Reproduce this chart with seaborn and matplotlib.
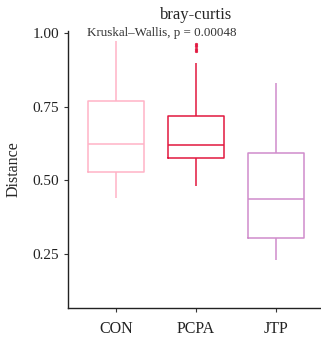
import pandas as pd
import matplotlib
matplotlib.use("Agg")
import matplotlib.pyplot as plt
import seaborn as sns

groups = ["CON", "PCPA", "JTP"]
con = [0.44, 0.53, 0.625, 0.77, 0.975]
pcpa = [0.48, 0.51, 0.53, 0.55, 0.565, 0.575, 0.585, 0.595, 0.605, 0.612,
        0.619, 0.64, 0.66, 0.68, 0.70, 0.72, 0.90, 0.94, 0.948, 0.956, 0.964]
jtp = [0.228, 0.305, 0.435, 0.592, 0.83]
colors = ["#FFB3C6", "#E2183F", "#D08CCB"]
pval = "0.00048"

df = pd.DataFrame({
    "group": ["CON"] * len(con) + ["PCPA"] * len(pcpa) + ["JTP"] * len(jtp),
    "Distance": con + pcpa + jtp,
})

sns.set_style("white")
plt.rcParams["font.family"] = ["Liberation Serif", "DejaVu Serif"]

fig = plt.figure(figsize=(3.21, 3.43), dpi=100)
ax = fig.add_axes([0.212, 0.102, 0.797, 0.807])

sns.boxplot(data=df, x="group", y="Distance", hue="group", order=groups,
            hue_order=groups, palette=colors, fill=False, width=0.7,
            linewidth=1.1, whis=1.5, showcaps=False, legend=False, ax=ax,
            flierprops=dict(marker="o", markersize=1.8, markeredgewidth=0.5))

# color outliers like their box
for line, c in zip([l for l in ax.lines if l.get_marker() == "o"], colors):
    line.set_markerfacecolor(c)
    line.set_markeredgecolor(c)

ax.set_xlim(-0.6, 2.6)
ax.set_ylim(0.066, 1.007)
ax.set_yticks([0.25, 0.5, 0.75, 1.0])
ax.set_yticklabels(["0.25", "0.50", "0.75", "1.00"])
ax.set_xlabel("")
ax.set_ylabel("Distance", fontsize=11.5, labelpad=8)
ax.set_title("bray-curtis", fontsize=12, pad=9)
ax.text(-0.36, 1.0, "Kruskal\u2013Wallis, p = " + pval, fontsize=9.4,
        va="center", ha="left", color="#333333")

sns.despine(ax=ax)
for s in ["left", "bottom"]:
    ax.spines[s].set_color("#222222")
    ax.spines[s].set_linewidth(1.0)
ax.tick_params(axis="both", which="both", length=3, width=0.8,
               color="#333333", labelcolor="#222222", bottom=True, left=True)
ax.tick_params(axis="y", labelsize=11)
ax.tick_params(axis="x", labelsize=11.5, pad=6)

fig.savefig("out.png", dpi=100)
